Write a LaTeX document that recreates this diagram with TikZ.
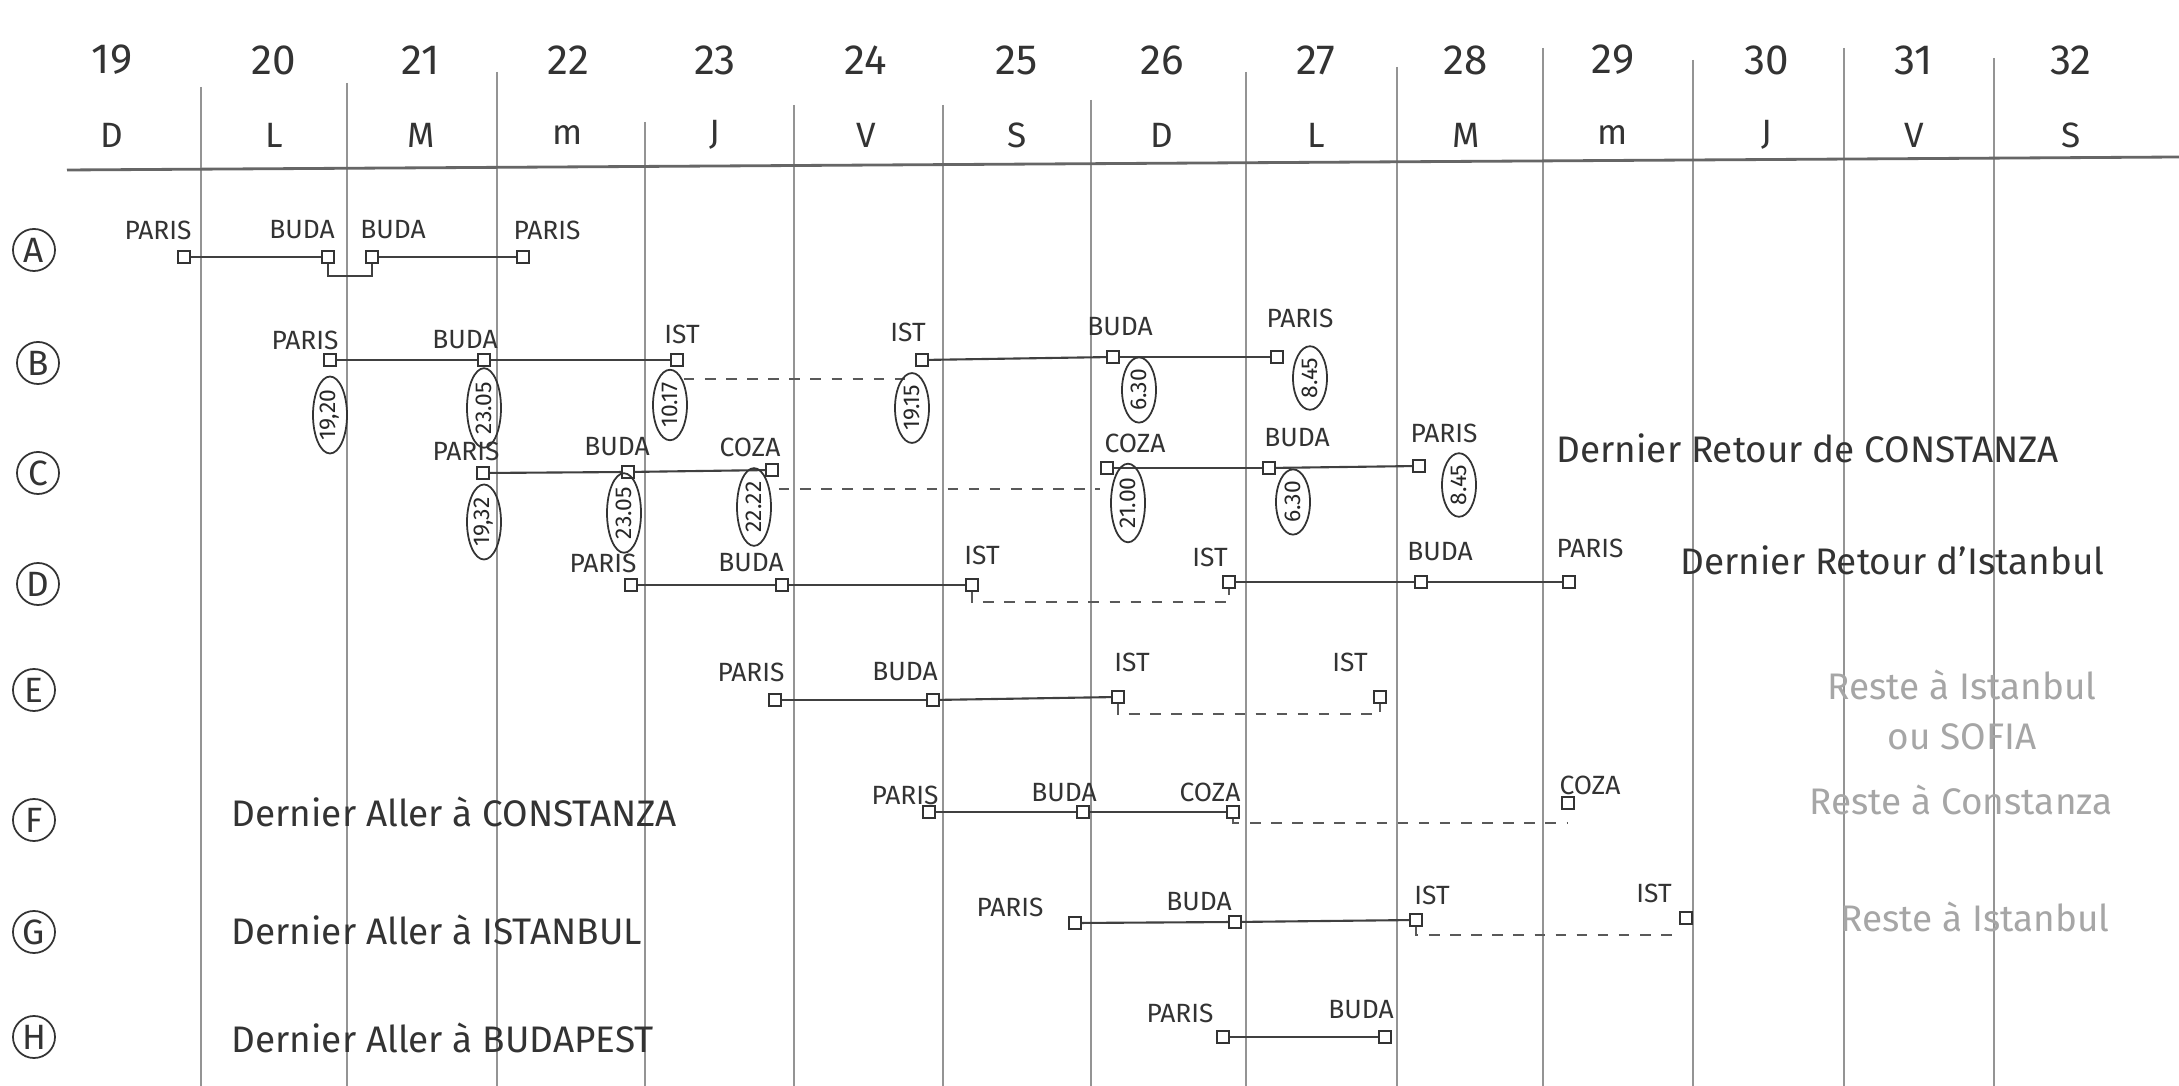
\documentclass[tikz,border=0pt]{standalone}
\usepackage{fontspec}
\setmainfont{Fira Sans}
\usetikzlibrary{shapes.geometric}
\begin{document}
\begin{tikzpicture}[x=0.01cm,y=-0.01cm,
  grid/.style={draw=black!42, line width=0.45pt},
  rule/.style={draw=black!60, line width=0.8pt},
  daynum/.style={font=\fontsize{12}{14}\selectfont, text=black!80, inner sep=0},
  dayltr/.style={font=\fontsize{10}{12}\selectfont, text=black!80, inner sep=0},
  rowlab/.style={circle, draw=black!80, minimum size=0.42cm, inner sep=0, font=\fontsize{10}{11}\selectfont, text=black!80, line width=0.5pt},
  city/.style={font=\fontsize{7.5}{8}\selectfont, text=black!80, inner sep=0},
  stn/.style={draw=black!80, minimum size=0.12cm, inner sep=0, line width=0.5pt, fill=white},
  tm/.style={ellipse, draw=black!80, rotate=90, font=\fontsize{6.5}{7}\selectfont, text=black!85, inner sep=0.6pt, minimum height=0.34cm, line width=0.5pt},
  trip/.style={draw=black!75, line width=0.6pt},
  wait/.style={draw=black!65, dash pattern=on 3pt off 3pt, line width=0.5pt},
  note/.style={font=\fontsize{10.5}{12}\selectfont, text=black!80, anchor=west, inner sep=0},
  faint/.style={font=\fontsize{10.5}{12}\selectfont, text=black!35, inner sep=0, align=center}
]
\useasboundingbox (0,0) rectangle (2179,1086);
\fill[white] (0,0) rectangle (2179,1086);

% grid
\foreach \x/\s in {201/87,347/83,497/72,645/122,794/105,943/105,1091/100,1246/72,1397/67,1543/48,1693/60,1844/48,1994/58}
  \draw[grid] (\x,\s) -- (\x,1086);
\draw[rule] (67,170) -- (2179,157);

% day numbers and letters
\foreach \x/\n/\l [count=\i] in {112/19/D,274/20/L,421/21/M,568/22/m,715/23/J,866/24/V,1017/25/S,1162/26/D,1316/27/L,1466/28/M,1613/29/m,1767/30/J,1914/31/V,2071/32/S}{
  \node[daynum] (n\i) at (\x,60) {\n};
  \node[dayltr] (l\i) at (\x,135) {\l};
}

% row labels
\node[rowlab] (rA) at (34,250) {A};
\node[rowlab] (rB) at (38,363) {B};
\node[rowlab] (rC) at (38,473) {C};
\node[rowlab] (rD) at (38,584) {D};
\node[rowlab] (rE) at (34,690) {E};
\node[rowlab] (rF) at (34,820) {F};
\node[rowlab] (rG) at (34,932) {G};
\node[rowlab] (rH) at (34,1037) {H};

% ---------- Row A
\node[stn] (aP1) at (184,257) {};
\node[stn] (aB1) at (328,257) {};
\node[stn] (aB2) at (372,257) {};
\node[stn] (aP2) at (523,257) {};
\node[city] (laP1) at (158,230) {PARIS};
\node[city] (laB1) at (302,230) {BUDA};
\node[city] (laB2) at (393,230) {BUDA};
\node[city] (laP2) at (547,230) {PARIS};
\draw[trip] (aP1) -- (aB1);
\draw[trip] (aB2) -- (aP2);
\draw[trip] (aB1.south) -- ++(0,12) -| (aB2.south);

% ---------- Row B
\node[stn] (bP) at (330,360) {};
\node[stn] (bB) at (484,360) {};
\node[stn] (bI1) at (677,360) {};
\node[stn] (bI2) at (922,360) {};
\node[stn] (bB2) at (1113,357) {};
\node[stn] (bP2) at (1277,357) {};
\node[city] (lbP) at (305,340) {PARIS};
\node[city] (lbB) at (465,340) {BUDA};
\node[city] (lbI1) at (682,334) {IST};
\node[city] (lbI2) at (908,332) {IST};
\node[city] (lbB2) at (1120,327) {BUDA};
\node[city] (lbP2) at (1300,318) {PARIS};
\draw[trip] (bP) -- (bB);
\draw[trip] (bB) -- (bI1);
\draw[trip] (bI2) -- (bB2);
\draw[trip] (bB2) -- (bP2);
\draw[wait] (bI1.east |- 0,379) -- (bI2.west |- 0,379);
\node[tm] (tb1) at (330,415) {19,20};
\node[tm] (tb2) at (484,408) {23.05};
\node[tm] (tb3) at (670,405) {10.17};
\node[tm] (tb4) at (912,408) {19.15};
\node[tm] (tb5) at (1139,390) {6.30};
\node[tm] (tb6) at (1310,378) {8.45};

% ---------- Row C
\node[stn] (cP) at (483,473) {};
\node[stn] (cB) at (628,472) {};
\node[stn] (cC) at (772,470) {};
\node[stn] (cC2) at (1107,468) {};
\node[stn] (cB2) at (1269,468) {};
\node[stn] (cP2) at (1419,466) {};
\node[city] (lcP) at (466,451) {PARIS};
\node[city] (lcB) at (617,447) {BUDA};
\node[city] (lcC) at (750,447) {COZA};
\node[city] (lcC2) at (1135,443) {COZA};
\node[city] (lcB2) at (1297,438) {BUDA};
\node[city] (lcP2) at (1444,433) {PARIS};
\draw[trip] (cP) -- (cB);
\draw[trip] (cB) -- (cC);
\draw[trip] (cC2) -- (cB2);
\draw[trip] (cB2) -- (cP2);
\draw[wait] (cC.east |- 0,489) -- (cC2.west |- 0,489);
\node[tm] (tc1) at (484,522) {19,32};
\node[tm] (tc2) at (624,513) {23.05};
\node[tm] (tc3) at (754,507) {22.22};
\node[tm] (tc4) at (1128,503) {21.00};
\node[tm] (tc5) at (1293,502) {6.30};
\node[tm] (tc6) at (1459,485) {8.45};
\node[note] (nC) at (1556,448) {Dernier Retour de CONSTANZA};

% ---------- Row D
\node[stn] (dP) at (631,585) {};
\node[stn] (dB) at (782,585) {};
\node[stn] (dI1) at (972,585) {};
\node[stn] (dI2) at (1229,582) {};
\node[stn] (dB2) at (1421,582) {};
\node[stn] (dP2) at (1569,582) {};
\node[city] (ldP) at (603,563) {PARIS};
\node[city] (ldB) at (751,563) {BUDA};
\node[city] (ldI1) at (982,555) {IST};
\node[city] (ldI2) at (1210,557) {IST};
\node[city] (ldB2) at (1440,552) {BUDA};
\node[city] (ldP2) at (1590,548) {PARIS};
\draw[trip] (dP) -- (dB);
\draw[trip] (dB) -- (dI1);
\draw[trip] (dI2) -- (dB2);
\draw[trip] (dB2) -- (dP2);
\draw[wait] (dI1.south) |- (dI2.south |- 0,602) -- (dI2.south);
\node[note] (nD) at (1680,560) {Dernier Retour d'Istanbul};

% ---------- Row E
\node[stn] (eP) at (775,700) {};
\node[stn] (eB) at (933,700) {};
\node[stn] (eI1) at (1118,697) {};
\node[stn] (eI2) at (1380,697) {};
\node[city] (leP) at (751,672) {PARIS};
\node[city] (leB) at (905,672) {BUDA};
\node[city] (leI1) at (1132,662) {IST};
\node[city] (leI2) at (1350,662) {IST};
\draw[trip] (eP) -- (eB);
\draw[trip] (eB) -- (eI1);
\draw[wait] (eI1.south) |- (eI2.south |- 0,714) -- (eI2.south);
\node[faint] (nE) at (1962,710) {Reste à Istanbul\\[2pt]ou SOFIA};

% ---------- Row F
\node[stn] (fP) at (929,812) {};
\node[stn] (fB) at (1083,812) {};
\node[stn] (fC) at (1233,812) {};
\node[stn] (fC2) at (1568,803) {};
\node[city] (lfP) at (905,795) {PARIS};
\node[city] (lfB) at (1064,793) {BUDA};
\node[city] (lfC) at (1210,792) {COZA};
\node[city] (lfC2) at (1590,785) {COZA};
\draw[trip] (fP) -- (fB);
\draw[trip] (fB) -- (fC);
\draw[wait] (fC.south) |- (fC2.south |- 0,823);
\node[note] (nF) at (231,812) {Dernier Aller à CONSTANZA};
\node[faint] (nF2) at (1961,800) {Reste à Constanza};

% ---------- Row G
\node[stn] (gP) at (1075,923) {};
\node[stn] (gB) at (1235,922) {};
\node[stn] (gI1) at (1416,920) {};
\node[stn] (gI2) at (1686,918) {};
\node[city] (lgP) at (1010,907) {PARIS};
\node[city] (lgB) at (1199,902) {BUDA};
\node[city] (lgI1) at (1432,895) {IST};
\node[city] (lgI2) at (1654,893) {IST};
\draw[trip] (gP) -- (gB);
\draw[trip] (gB) -- (gI1);
\draw[wait] (gI1.south) |- (gI2.west |- 0,935);
\node[note] (nG) at (231,930) {Dernier Aller à ISTANBUL};
\node[faint] (nG2) at (1975,917) {Reste à Istanbul};

% ---------- Row H
\node[stn] (hP) at (1223,1037) {};
\node[stn] (hB) at (1385,1037) {};
\node[city] (lhP) at (1180,1013) {PARIS};
\node[city] (lhB) at (1361,1010) {BUDA};
\draw[trip] (hP) -- (hB);
\node[note] (nH) at (231,1038) {Dernier Aller à BUDAPEST};
\end{tikzpicture}
\end{document}
